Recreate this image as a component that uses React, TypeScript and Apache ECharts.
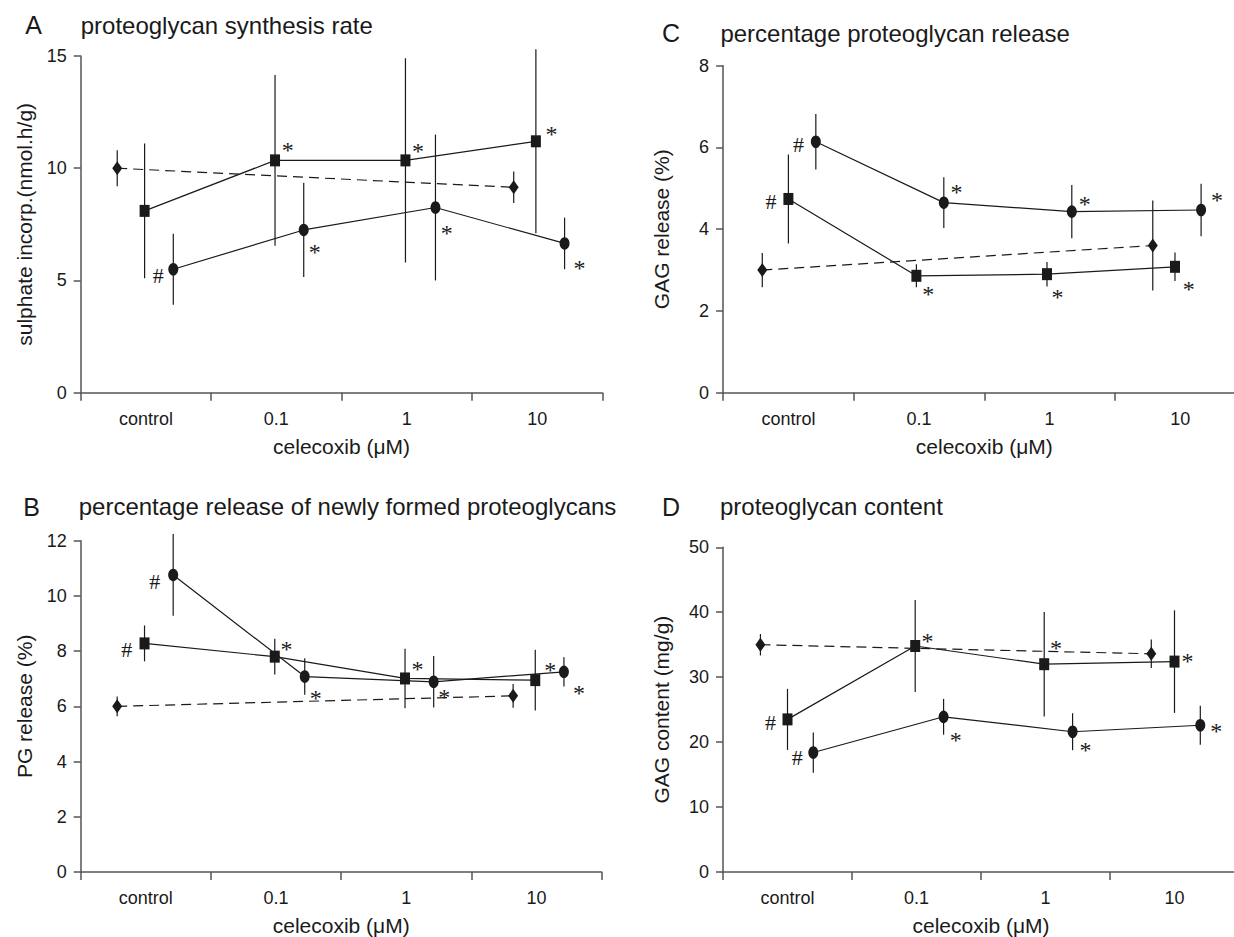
import React, { useEffect, useRef } from "react";
import * as echarts from "echarts";

// ---------- data ----------
const categories = ["control", "0.1", "1", "10"];

// Panel A: proteoglycan synthesis rate
const A_diamondX = [0.28, 3.32];
const A_diamondY = [10.0, 9.15];
const A_diamondErr = [0.8, 0.7];
const A_squareX = [0.49, 1.49, 2.49, 3.49];
const A_squareY = [8.1, 10.35, 10.35, 11.2];
const A_squareErr = [3.0, 3.8, 4.55, 4.1];
const A_circleX = [0.71, 1.71, 2.72, 3.71];
const A_circleY = [5.5, 7.25, 8.25, 6.65];
const A_circleErr = [1.58, 2.1, 3.25, 1.15];
const A_squareMarks = ["", "*", "*", "*"];
const A_circleMarks = ["#", "*", "*", "*"];

// Panel B: percentage release of newly formed proteoglycans
const B_diamondX = [0.28, 3.32];
const B_diamondY = [6.0, 6.38];
const B_diamondErr = [0.36, 0.43];
const B_squareX = [0.49, 1.49, 2.49, 3.49];
const B_squareY = [8.28, 7.8, 7.01, 6.95];
const B_squareErr = [0.65, 0.65, 1.08, 1.1];
const B_circleX = [0.71, 1.72, 2.71, 3.71];
const B_circleY = [10.76, 7.08, 6.89, 7.25];
const B_circleErr = [1.48, 0.66, 0.93, 0.53];
const B_squareMarks = ["#", "*", "*", "*"];
const B_circleMarks = ["#", "*", "*", "*"];

// Panel C: percentage proteoglycan release
const C_diamondX = [0.3, 3.29];
const C_diamondY = [3.0, 3.6];
const C_diamondErr = [0.42, 1.1];
const C_squareX = [0.5, 1.48, 2.48, 3.46];
const C_squareY = [4.74, 2.86, 2.9, 3.08];
const C_squareErr = [1.09, 0.28, 0.3, 0.35];
const C_circleX = [0.71, 1.69, 2.67, 3.66];
const C_circleY = [6.14, 4.65, 4.43, 4.47];
const C_circleErr = [0.68, 0.62, 0.65, 0.64];
const C_squareMarks = ["#", "*", "*", "*"];
const C_circleMarks = ["#", "*", "*", "*"];

// Panel D: proteoglycan content
const D_diamondX = [0.29, 3.32];
const D_diamondY = [35.0, 33.6];
const D_diamondErr = [1.65, 2.2];
const D_squareX = [0.5, 1.49, 2.49, 3.5];
const D_squareY = [23.5, 34.8, 32.0, 32.4];
const D_squareErr = [4.7, 7.1, 8.05, 7.9];
const D_circleX = [0.7, 1.71, 2.71, 3.7];
const D_circleY = [18.4, 23.9, 21.6, 22.6];
const D_circleErr = [3.1, 2.75, 2.85, 3.0];
const D_squareMarks = ["#", "*", "*", "*"];
const D_circleMarks = ["#", "*", "*", "*"];

// ---------- layout / style ----------
const FONT = '"Liberation Sans", Arial, Helvetica, sans-serif';
const SERIF = '"Liberation Serif", "Times New Roman", serif';
const AXIS = "#555555";
const TXT = "#1a1a1a";
const INK = "#1a1a1a";

// annotation offsets (px) relative to marker centre
const markOffsets: Record<string, { square: number[][]; circle: number[][] }> = {
  A: { square: [[0, 0], [12.6, -13.7], [12.6, -13.3], [15.7, -11]], circle: [[-15, 6], [11, 18.7], [11.4, 21.7], [15, 20.7]] },
  B: { square: [[-17.7, 5.7], [11.8, -10.7], [12.6, -12.7], [15, -13.7]], circle: [[-18.5, 6.7], [11, 17.7], [10.6, 11.7], [15, 18]] },
  C: { square: [[-17.3, 2.7], [11.8, 14.3], [10.6, 19.3], [13.8, 19]], circle: [[-17.3, 2.3], [12.6, -13.7], [13, -10.7], [16, -13.3]] },
  D: { square: [[-17, 3.3], [12.2, -8.3], [11.8, -20], [13, -4.3]], circle: [[-16, 5], [12.2, 19.3], [13, 14.7], [16, 2.7]] },
};

type Panel = {
  key: string;
  title: string;
  yName: string;
  yMax: number;
  yInterval: number;
  grid: { left: number; top: number; width: number; height: number };
  yNameGap: number;
  letterPos: [number, number];
  titlePos: [number, number];
  diamond: { x: number[]; y: number[]; e: number[] };
  square: { x: number[]; y: number[]; e: number[]; m: string[] };
  circle: { x: number[]; y: number[]; e: number[]; m: string[] };
};

const panels: Panel[] = [
  {
    key: "A", title: "proteoglycan synthesis rate", yName: "sulphate incorp.(nmol.h/g)",
    yMax: 15, yInterval: 5,
    grid: { left: 80.7, top: 56, width: 521.7, height: 336.7 }, yNameGap: 45.5,
    letterPos: [33.5, 25], titlePos: [80.7, 25],
    diamond: { x: A_diamondX, y: A_diamondY, e: A_diamondErr },
    square: { x: A_squareX, y: A_squareY, e: A_squareErr, m: A_squareMarks },
    circle: { x: A_circleX, y: A_circleY, e: A_circleErr, m: A_circleMarks },
  },
  {
    key: "B", title: "percentage release of newly formed proteoglycans", yName: "PG release (%)",
    yMax: 12, yInterval: 2,
    grid: { left: 80.7, top: 540.7, width: 521, height: 333.3 }, yNameGap: 45.5,
    letterPos: [31.5, 506.7], titlePos: [78.7, 506.7],
    diamond: { x: B_diamondX, y: B_diamondY, e: B_diamondErr },
    square: { x: B_squareX, y: B_squareY, e: B_squareErr, m: B_squareMarks },
    circle: { x: B_circleX, y: B_circleY, e: B_circleErr, m: B_circleMarks },
  },
  {
    key: "C", title: "percentage proteoglycan release", yName: "GAG release (%)",
    yMax: 8, yInterval: 2,
    grid: { left: 723.1, top: 65.7, width: 522.4, height: 327 }, yNameGap: 51.5,
    letterPos: [671, 33.3], titlePos: [720.4, 33.3],
    diamond: { x: C_diamondX, y: C_diamondY, e: C_diamondErr },
    square: { x: C_squareX, y: C_squareY, e: C_squareErr, m: C_squareMarks },
    circle: { x: C_circleX, y: C_circleY, e: C_circleErr, m: C_circleMarks },
  },
  {
    key: "D", title: "proteoglycan content", yName: "GAG content (mg/g)",
    yMax: 50, yInterval: 10,
    grid: { left: 723, top: 547.3, width: 516, height: 326 }, yNameGap: 51.5,
    letterPos: [671, 506.7], titlePos: [720, 506.7],
    diamond: { x: D_diamondX, y: D_diamondY, e: D_diamondErr },
    square: { x: D_squareX, y: D_squareY, e: D_squareErr, m: D_squareMarks },
    circle: { x: D_circleX, y: D_circleY, e: D_circleErr, m: D_circleMarks },
  },
];

function pointsWithMarks(xs: number[], ys: number[], marks: string[], offs: number[][]) {
  return xs.map((x, i) => {
    const m = marks[i];
    const item: any = { value: [x, ys[i]] };
    if (m) {
      const star = m === "*";
      item.label = {
        show: true,
        formatter: m,
        position: "inside",
        offset: [offs[i][0], offs[i][1] + (star ? 3.5 : 0)],
        fontFamily: SERIF,
        fontSize: star ? 24 : 22,
        color: INK,
      };
    }
    return item;
  });
}

function buildOption() {
  const grids: any[] = [];
  const xAxes: any[] = [];
  const yAxes: any[] = [];
  const series: any[] = [];
  const graphics: any[] = [];

  panels.forEach((p, i) => {
    grids.push({ ...p.grid, containLabel: false });
    xAxes.push({
      type: "value", gridIndex: i, min: 0, max: 4, interval: 1, position: "bottom",
      axisLine: { show: true, onZero: false, lineStyle: { color: AXIS, width: 1.5 } },
      axisTick: { show: true, inside: false, length: 8, lineStyle: { color: AXIS, width: 1.5 } },
      axisLabel: { show: false }, splitLine: { show: false },
      name: "celecoxib (μM)", nameLocation: "middle", nameGap: 43,
      nameTextStyle: { fontSize: 21, color: TXT, fontFamily: FONT },
    });
    xAxes.push({
      type: "category", gridIndex: i, data: categories, boundaryGap: true, position: "bottom",
      axisLine: { show: false }, axisTick: { show: false }, splitLine: { show: false },
      axisLabel: { margin: 17, fontSize: 18, color: TXT, fontFamily: FONT, interval: 0 },
    });
    yAxes.push({
      type: "value", gridIndex: i, min: 0, max: p.yMax, interval: p.yInterval,
      axisLine: { show: true, onZero: false, lineStyle: { color: AXIS, width: 1.5 } },
      axisTick: { show: true, inside: false, length: 7, lineStyle: { color: AXIS, width: 1.5 } },
      axisLabel: { margin: 14, fontSize: 18, color: TXT, fontFamily: FONT },
      splitLine: { show: false },
      name: p.yName, nameLocation: "middle", nameGap: p.yNameGap,
      nameTextStyle: { fontSize: 21, color: TXT, fontFamily: FONT },
    });

    const xIdx = 2 * i;
    const errData: number[][] = [];
    [p.diamond, p.square, p.circle].forEach((s) => {
      s.x.forEach((x, k) => errData.push([x, s.y[k] - s.e[k], s.y[k] + s.e[k]]));
    });
    series.push({
      type: "custom", xAxisIndex: xIdx, yAxisIndex: i, z: 1,
      data: errData, encode: { x: 0, y: [1, 2] }, silent: true,
      renderItem: (params: any, api: any) => {
        const x = api.value(0);
        const a = api.coord([x, api.value(1)]);
        const b = api.coord([x, api.value(2)]);
        return {
          type: "line",
          shape: { x1: a[0], y1: a[1], x2: b[0], y2: b[1] },
          style: { stroke: INK, lineWidth: 1.2 },
        };
      },
    });
    series.push({
      type: "line", xAxisIndex: xIdx, yAxisIndex: i, z: 3,
      data: p.diamond.x.map((x, k) => [x, p.diamond.y[k]]),
      symbol: "diamond", symbolSize: [10, 14], showAllSymbol: true,
      itemStyle: { color: INK, borderWidth: 0 },
      lineStyle: { color: INK, width: 1.2, type: [10, 6] },
    });
    series.push({
      type: "line", xAxisIndex: xIdx, yAxisIndex: i, z: 3,
      data: pointsWithMarks(p.square.x, p.square.y, p.square.m, markOffsets[p.key].square),
      symbol: "rect", symbolSize: [10, 12], showAllSymbol: true,
      itemStyle: { color: INK, borderWidth: 0 },
      lineStyle: { color: INK, width: 1.2 },
    });
    series.push({
      type: "line", xAxisIndex: xIdx, yAxisIndex: i, z: 3,
      data: pointsWithMarks(p.circle.x, p.circle.y, p.circle.m, markOffsets[p.key].circle),
      symbol: "circle", symbolSize: [10, 12.5], showAllSymbol: true,
      itemStyle: { color: INK, borderWidth: 0 },
      lineStyle: { color: INK, width: 1.2 },
    });

    graphics.push({
      type: "text", x: p.letterPos[0], y: p.letterPos[1],
      style: { text: p.key, fontSize: 25, fontFamily: FONT, fill: TXT, align: "center", verticalAlign: "middle" },
    });
    graphics.push({
      type: "text", x: p.titlePos[0], y: p.titlePos[1],
      style: { text: p.title, fontSize: 24, fontFamily: FONT, fill: TXT, align: "left", verticalAlign: "middle" },
    });
  });

  return {
    animation: false,
    backgroundColor: "#ffffff",
    textStyle: { fontFamily: FONT },
    grid: grids,
    xAxis: xAxes,
    yAxis: yAxes,
    series,
    graphic: graphics,
  };
}

export default function App() {
  const ref = useRef<HTMLDivElement>(null);
  useEffect(() => {
    if (!ref.current) return;
    const chart = echarts.init(ref.current, undefined, { renderer: "svg" });
    chart.setOption(buildOption() as any);
    return () => chart.dispose();
  }, []);
  return (
    <div style={{ position: "fixed", left: 0, top: 0, width: 1234, height: 937, overflow: "hidden", background: "#fff" }}>
      <div ref={ref} style={{ width: 1270, height: 937 }} />
    </div>
  );
}
